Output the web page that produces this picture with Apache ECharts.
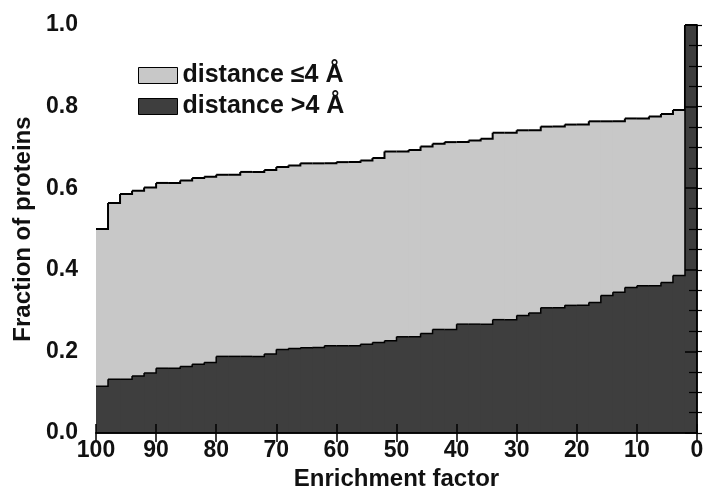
<!DOCTYPE html>
<html>
<head>
<meta charset="utf-8">
<script src="https://cdn.jsdelivr.net/npm/echarts@6/dist/echarts.min.js"></script>
<style>
  html, body { margin: 0; padding: 0; background: #fff; }
  #chart { width: 707px; height: 496px; }
</style>
</head>
<body>
<div id="chart"></div>
<script>
// bin edges of the enrichment factor (2-unit bins, 100 -> 0)
const binEdges = [100, 98, 96, 94, 92, 90, 88, 86, 84, 82, 80, 78, 76, 74, 72, 70, 68, 66, 64, 62,
  60, 58, 56, 54, 52, 50, 48, 46, 44, 42, 40, 38, 36, 34, 32, 30, 28, 26, 24, 22,
  20, 18, 16, 14, 12, 10, 8, 6, 4, 2, 0];

// top of the stack (all proteins counted) per bin
const fracTotal = [0.500, 0.564, 0.586, 0.594, 0.602, 0.613, 0.613, 0.619, 0.625, 0.628,
  0.633, 0.633, 0.640, 0.640, 0.645, 0.652, 0.656, 0.661, 0.661, 0.661,
  0.664, 0.664, 0.668, 0.674, 0.690, 0.690, 0.694, 0.702, 0.709, 0.713,
  0.713, 0.717, 0.721, 0.736, 0.736, 0.742, 0.742, 0.751, 0.751, 0.756,
  0.756, 0.764, 0.764, 0.764, 0.771, 0.771, 0.776, 0.782, 0.792, 1.000];

// distance > 4 A per bin
const fracFar = [0.115, 0.132, 0.132, 0.140, 0.147, 0.159, 0.159, 0.163, 0.169, 0.173,
  0.188, 0.188, 0.188, 0.188, 0.194, 0.205, 0.207, 0.209, 0.210, 0.214,
  0.214, 0.214, 0.218, 0.222, 0.226, 0.236, 0.236, 0.244, 0.254, 0.254,
  0.267, 0.267, 0.267, 0.278, 0.278, 0.288, 0.294, 0.307, 0.307, 0.313,
  0.313, 0.320, 0.337, 0.345, 0.357, 0.361, 0.361, 0.369, 0.386, 1.000];

const seriesNames = ['distance ≤4 Å', 'distance >4 Å'];
const xTicks = [100, 90, 80, 70, 60, 50, 40, 30, 20, 10, 0];

// one item per bin: [left edge, right edge, value, value of next bin]
function toBins(vals) {
  return vals.map((v, i) => [binEdges[i], binEdges[i + 1], v, i + 1 < vals.length ? vals[i + 1] : v]);
}

// filled step bin + its outline (top edge and riser to the next bin)
function stepItem(fill, lineW) {
  return function (params, api) {
    const x0 = api.value(0), x1 = api.value(1), v = api.value(2), vNext = api.value(3);
    const a = api.coord([x0, v]);
    const b = api.coord([x1, v]);
    const base = api.coord([x1, 0]);
    const c = api.coord([x1, vNext]);
    const last = params.dataIndex === params.dataInsideLength - 1;
    return {
      type: 'group',
      children: [
        {
          type: 'rect',
          // overlap the neighbour a little so no seam shows between bins
          shape: { x: a[0], y: a[1], width: b[0] - a[0] + (last ? 0 : 1.5), height: base[1] - a[1] },
          style: { fill: fill }
        },
        {
          type: 'polyline',
          z2: 10,
          shape: { points: [a, b, c] },
          style: { stroke: '#000', lineWidth: lineW, fill: null }
        }
      ]
    };
  };
}

const font = 'Liberation Sans';
const black = '#111';
const lightFill = '#c8c8c8';
const darkFill = '#3e3e3e';

let option = {
  animation: false,
  backgroundColor: '#fff',
  textStyle: { fontFamily: font, color: black, fontWeight: 'bold' },
  grid: { left: 96, right: 10, top: 25, bottom: 51 },
  legend: {
    orient: 'vertical',
    left: 138,
    top: 63,
    padding: 0,
    itemWidth: 39,
    itemHeight: 16,
    itemGap: 6,
    icon: 'rect',
    itemStyle: { borderColor: '#000', borderWidth: 1 },
    textStyle: { fontFamily: font, fontSize: 25, fontWeight: 'bold', color: black },
    data: seriesNames
  },
  xAxis: [
    {
      type: 'value',
      inverse: true,
      min: 0,
      max: 100,
      interval: 10,
      z: 5,
      name: 'Enrichment factor',
      nameLocation: 'middle',
      nameGap: 22,
      nameTextStyle: { fontFamily: font, fontSize: 24, fontWeight: 'bold', color: black },
      axisLine: { lineStyle: { color: '#000', width: 1.5 } },
      axisTick: { inside: true, length: 9, lineStyle: { color: '#000', width: 1.5 } },
      axisLabel: {
        margin: 6, fontSize: 23, fontWeight: 'bold', color: black, fontFamily: font,
        formatter: v => (xTicks.indexOf(v) >= 0 ? String(v) : '')
      },
      splitLine: { show: false }
    },
    {
      type: 'value',
      position: 'top',
      inverse: true,
      min: 0,
      max: 100,
      interval: 10,
      z: 5,
      axisLine: { lineStyle: { color: '#000', width: 1.5 } },
      axisTick: { inside: true, length: 9, lineStyle: { color: '#000', width: 1.5 } },
      axisLabel: { show: false },
      splitLine: { show: false }
    }
  ],
  yAxis: [
    {
      type: 'value',
      min: 0,
      max: 1,
      interval: 0.2,
      z: 5,
      name: 'Fraction of proteins',
      nameLocation: 'middle',
      nameGap: 61,
      nameTextStyle: { fontFamily: font, fontSize: 24, fontWeight: 'bold', color: black },
      axisLine: { show: true, lineStyle: { color: '#000', width: 1.5 } },
      axisTick: { show: true, length: 12, lineStyle: { color: '#000', width: 1.5 } },
      minorTick: { show: true, splitNumber: 4, length: 8, lineStyle: { color: '#000', width: 1.2 } },
      axisLabel: {
        margin: 18, fontSize: 23, fontWeight: 'bold', color: black, fontFamily: font,
        formatter: v => v.toFixed(1)
      },
      splitLine: { show: false }
    },
    {
      type: 'value',
      position: 'right',
      min: 0,
      max: 1,
      interval: 0.05,
      z: 5,
      axisLine: { show: true, lineStyle: { color: '#000', width: 1.5 } },
      axisTick: { show: true, length: 5, lineStyle: { color: '#000', width: 1.2 } },
      axisLabel: { show: false },
      splitLine: { show: false }
    }
  ],
  series: [
    {
      name: seriesNames[0],
      type: 'custom',
      z: 2,
      itemStyle: { color: lightFill },
      encode: { x: [0, 1], y: 2 },
      renderItem: stepItem(lightFill, 2),
      data: toBins(fracTotal)
    },
    {
      name: seriesNames[1],
      type: 'custom',
      z: 3,
      itemStyle: { color: darkFill },
      encode: { x: [0, 1], y: 2 },
      renderItem: stepItem(darkFill, 1.5),
      data: toBins(fracFar)
    }
  ]
};

let myChart = echarts.init(document.querySelector('#chart'), null, { renderer: 'canvas' });
myChart.setOption(option);
</script>
</body>
</html>
